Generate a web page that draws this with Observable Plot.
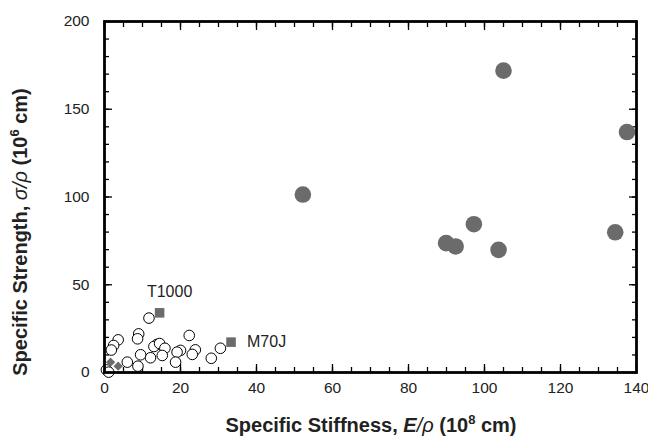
<!DOCTYPE html>
<html><head><meta charset="utf-8">
<script src="https://cdn.jsdelivr.net/npm/d3@7"></script>
<script src="https://cdn.jsdelivr.net/npm/@observablehq/plot@0.6"></script>
<style>body{margin:0;background:#fff} svg{font-family:"Liberation Sans",Arial,sans-serif}</style>
</head><body><div id="chart"></div>
<script>
// Filled gray circles
const highX = [52.2, 105, 137.5, 97.2, 89.9, 92.4, 103.7, 134.4];
const highY = [101.4, 172, 137, 84.5, 73.7, 71.8, 69.9, 79.9];
// Open circles
const openX = [11.7, 9.0, 8.7, 3.6, 2.4, 1.8, 22.3, 13.8, 13.0, 14.5, 15.9, 20.0, 19.1, 23.9, 23.1, 30.5, 28.1, 18.7, 15.2, 12.1, 9.5, 8.8, 6.0, 0.5, 1.1];
const openY = [31, 22, 19.2, 18.6, 15.4, 12.8, 21.1, 16, 14.8, 16.5, 13.8, 12.6, 11.6, 12.9, 10.3, 13.8, 8.1, 5.9, 9.7, 8.4, 10.1, 3.6, 5.9, 1.5, 0.2];
// Gray squares with labels
const squareX = [14.5, 33.3];
const squareY = [34, 17.3];
const squareLabel = ["T1000", "M70J"];
// Gray diamonds
const diamondX = [1.6, 3.6];
const diamondY = [5.9, 3.6];
// Ticks
const xTicks = [0, 20, 40, 60, 80, 100, 120, 140];
const yTicks = [0, 50, 100, 150, 200];
const xMinor = d3.range(0, 141, 5);
const yMinor = d3.range(0, 201, 10);

const high = highX.map((x, i) => ({x, y: highY[i]}));
const open = openX.map((x, i) => ({x, y: openY[i]}));
const squares = squareX.map((x, i) => ({x, y: squareY[i], label: squareLabel[i]}));
const diamonds = diamondX.map((x, i) => ({x, y: diamondY[i]}));

const gray = "#6b6b6b";
const tickStyle = {stroke: "#000", strokeWidth: 1.3, text: null, label: null};

const chart = Plot.plot({
  width: 648, height: 444,
  marginLeft: 104, marginRight: 12, marginTop: 21, marginBottom: 72,
  style: {fontFamily: "'Liberation Sans', Arial, sans-serif", background: "#fff"},
  x: {domain: [0, 140]},
  y: {domain: [0, 200]},
  marks: [
    // minor ticks
    Plot.axisX({anchor: "bottom", ticks: xMinor, tickSize: -5, ...tickStyle}),
    Plot.axisX({anchor: "top", ticks: xMinor, tickSize: -5, ...tickStyle}),
    Plot.axisY({anchor: "left", ticks: yMinor, tickSize: -5, ...tickStyle}),
    Plot.axisY({anchor: "right", ticks: yMinor, tickSize: -5, ...tickStyle}),
    // major ticks
    Plot.axisX({anchor: "bottom", ticks: xTicks, tickSize: -8, ...tickStyle}),
    Plot.axisX({anchor: "top", ticks: xTicks, tickSize: -8, ...tickStyle}),
    Plot.axisY({anchor: "left", ticks: yTicks, tickSize: -8, ...tickStyle}),
    Plot.axisY({anchor: "right", ticks: yTicks, tickSize: -8, ...tickStyle}),
    // labels
    Plot.axisX({anchor: "bottom", ticks: xTicks, tickSize: 0, tickPadding: 9, fontSize: 15.5, fill: "#222", label: null}),
    Plot.axisY({anchor: "left", ticks: yTicks, tickSize: 0, tickPadding: 15, fontSize: 15.5, fill: "#222", label: null}),
    Plot.dot(open, {x: "x", y: "y", r: 5.3, fill: "#fff", stroke: "#000", strokeWidth: 1}),
    Plot.dot(diamonds, {x: "x", y: "y", r: 4.2, symbol: "diamond2", fill: gray, stroke: "none"}),
    Plot.dot(squares, {x: "x", y: "y", r: 5.4, symbol: "square", fill: gray, stroke: "none"}),
    Plot.dot(high, {x: "x", y: "y", r: 8.3, fill: gray, stroke: "none"}),
    Plot.text(squares.slice(0, 1), {x: "x", y: "y", text: "label", dx: 10, dy: -21, fontSize: 16, fill: "#222", textAnchor: "middle"}),
    Plot.text(squares.slice(1), {x: "x", y: "y", text: "label", dx: 16, dy: 0, fontSize: 16, fill: "#222", textAnchor: "start"}),
    Plot.frame({stroke: "#000", strokeWidth: 2.8})
  ]
});

const svg = d3.select(chart);
const xt = svg.append("text").attr("x", 371).attr("y", 432).attr("text-anchor", "middle")
  .attr("font-size", 20).attr("font-weight", "bold").attr("fill", "#222");
xt.append("tspan").text("Specific Stiffness, ");
xt.append("tspan").attr("font-style", "italic").text("E");
xt.append("tspan").attr("font-style", "italic").attr("font-weight", "normal").text("/ρ");
xt.append("tspan").text(" (10");
xt.append("tspan").attr("font-size", 13).attr("dy", -8).text("8");
xt.append("tspan").attr("dy", 8).text(" cm)");

const yt = svg.append("text").attr("transform", "translate(27,232) rotate(-90)").attr("text-anchor", "middle")
  .attr("font-size", 20).attr("font-weight", "bold").attr("fill", "#222");
yt.append("tspan").text("Specific Strength, ");
yt.append("tspan").attr("font-style", "italic").attr("font-weight", "normal").text("σ/ρ");
yt.append("tspan").text(" (10");
yt.append("tspan").attr("font-size", 13).attr("dy", -8).text("6");
yt.append("tspan").attr("dy", 8).text(" cm)");

document.getElementById("chart").append(chart);
</script></body></html>
